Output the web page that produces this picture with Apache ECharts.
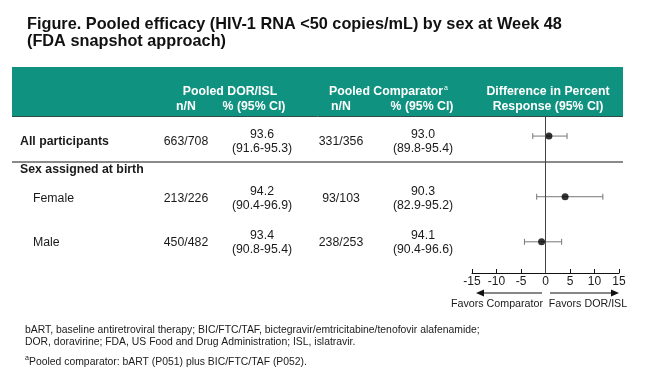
<!DOCTYPE html>
<html>
<head>
<meta charset="utf-8">
<script src="https://cdn.jsdelivr.net/npm/echarts/dist/echarts.min.js"></script>
<style>
  html, body { margin: 0; padding: 0; background: #fff; }
  #forest { width: 647px; height: 389px; }
</style>
</head>
<body>
<div id="forest"></div>
<script>
// table rows
const rowLabels = ['All participants', 'Female', 'Male'];
const dorN = ['663/708', '213/226', '450/482'];
const dorPct = ['93.6', '94.2', '93.4'];
const dorCI = ['(91.6-95.3)', '(90.4-96.9)', '(90.8-95.4)'];
const cmpN = ['331/356', '93/103', '238/253'];
const cmpPct = ['93.0', '90.3', '94.1'];
const cmpCI = ['(89.8-95.4)', '(82.9-95.2)', '(90.4-96.6)'];

// difference in percent response (95% CI)
const diffEst = [0.7, 4.0, -0.8];
const diffLo = [-2.6, -1.8, -4.3];
const diffHi = [4.4, 11.7, 3.3];
const rowSlot = [1.1, 4.6, 7.2];

const xMin = -15, xMax = 15, xStep = 5;

const FONT = '"Liberation Sans", Arial, sans-serif';
const rowTextY = [142, 199, 243];
const rowLabelX = [20, 33, 33];

let chart = echarts.init(document.getElementById('forest'), null, {renderer: 'canvas'});

const txt = (text, x, y, opt) => ({
	type: 'text',
	x: x, y: y,
	style: Object.assign({
		text: text,
		fontFamily: FONT,
		fontSize: 12.3,
		fill: '#1a1a1a',
		align: 'center',
		verticalAlign: 'middle'
	}, opt || {})
});

let graphics = [
	txt('Figure. Pooled efficacy (HIV-1 RNA <50 copies/mL) by sex at Week 48', 27, 25, {fontSize: 16.3, fontWeight: 'bold', align: 'left', fill: '#111'}),
	txt('(FDA snapshot approach)', 27, 42, {fontSize: 16.3, fontWeight: 'bold', align: 'left', fill: '#111'}),
	{type: 'rect', shape: {x: 12, y: 67, width: 611, height: 49}, style: {fill: '#0f927f'}},
	{type: 'line', shape: {x1: 12, y1: 116.5, x2: 623, y2: 116.5}, style: {stroke: '#2d4d48', lineWidth: 1}},
	txt('Pooled DOR/ISL', 230, 92, {fontWeight: 'bold', fill: '#fff'}),
	txt('n/N', 186, 107, {fontWeight: 'bold', fill: '#fff'}),
	txt('% (95% CI)', 254, 107, {fontWeight: 'bold', fill: '#fff'}),
	txt('Pooled Comparator', 386, 92, {fontWeight: 'bold', fill: '#fff'}),
	txt('a', 444, 88, {fontSize: 7, fill: '#fff', align: 'left'}),
	txt('n/N', 341, 107, {fontWeight: 'bold', fill: '#fff'}),
	txt('% (95% CI)', 422, 107, {fontWeight: 'bold', fill: '#fff'}),
	txt('Difference in Percent', 548, 92, {fontWeight: 'bold', fill: '#fff'}),
	txt('Response (95% CI)', 548, 107, {fontWeight: 'bold', fill: '#fff'}),
	{type: 'line', shape: {x1: 12, y1: 162, x2: 623, y2: 162}, style: {stroke: '#8a8a8a', lineWidth: 2}},
	txt('Sex assigned at birth', 20, 170, {fontWeight: 'bold', align: 'left'}),
	// favours arrows
	{type: 'line', shape: {x1: 542, y1: 293, x2: 482, y2: 293}, style: {stroke: '#111', lineWidth: 1.2}},
	{type: 'polygon', shape: {points: [[476, 293], [484, 289.5], [484, 296.5]]}, style: {fill: '#111'}},
	{type: 'line', shape: {x1: 550, y1: 293, x2: 612, y2: 293}, style: {stroke: '#111', lineWidth: 1.2}},
	{type: 'polygon', shape: {points: [[619, 293], [611, 289.5], [611, 296.5]]}, style: {fill: '#111'}},
	txt('Favors Comparator', 497, 304, {fontSize: 10.7}),
	txt('Favors DOR/ISL', 588, 304, {fontSize: 10.7}),
	// footnotes
	txt('bART, baseline antiretroviral therapy; BIC/FTC/TAF, bictegravir/emtricitabine/tenofovir alafenamide;', 25, 330, {fontSize: 10.4, align: 'left'}),
	txt('DOR, doravirine; FDA, US Food and Drug Administration; ISL, islatravir.', 25, 342, {fontSize: 10.4, align: 'left'}),
	txt('a', 25, 358, {fontSize: 7, align: 'left'}),
	txt('Pooled comparator: bART (P051) plus BIC/FTC/TAF (P052).', 29, 362, {fontSize: 10.4, align: 'left'})
];

rowLabels.forEach((label, i) => {
	let y = rowTextY[i];
	graphics.push(txt(label, rowLabelX[i], y, {align: 'left', fontWeight: i === 0 ? 'bold' : 'normal'}));
	graphics.push(txt(dorN[i], 186, y));
	graphics.push(txt(dorPct[i], 262, y - 7));
	graphics.push(txt(dorCI[i], 262, y + 7));
	graphics.push(txt(cmpN[i], 341, y));
	graphics.push(txt(cmpPct[i], 423, y - 7));
	graphics.push(txt(cmpCI[i], 423, y + 7));
});

let option = {
	animation: false,
	backgroundColor: '#fff',
	grid: {left: 472, width: 147, top: 117, height: 156},
	xAxis: {
		type: 'value',
		position: 'bottom',
		min: xMin, max: xMax, interval: xStep,
		axisLine: {show: true, onZero: false, lineStyle: {color: '#111', width: 1}},
		axisTick: {show: true, inside: true, length: 4, lineStyle: {color: '#111'}},
		axisLabel: {fontFamily: FONT, fontSize: 12, color: '#1a1a1a', margin: 3},
		splitLine: {show: false}
	},
	yAxis: {
		type: 'value', inverse: true, min: 0, max: 9,
		show: false
	},
	graphic: graphics,
	series: [
		{
			type: 'custom',
			silent: true,
			data: diffEst.map((d, i) => [diffLo[i], diffHi[i], rowSlot[i]]),
			renderItem: (params, api) => {
				let a = api.coord([api.value(0), api.value(2)]);
				let b = api.coord([api.value(1), api.value(2)]);
				let s = {stroke: '#777', lineWidth: 1};
				return {
					type: 'group',
					children: [
						{type: 'line', shape: {x1: a[0], y1: a[1], x2: b[0], y2: b[1]}, style: s},
						{type: 'line', shape: {x1: a[0], y1: a[1] - 3, x2: a[0], y2: a[1] + 3}, style: s},
						{type: 'line', shape: {x1: b[0], y1: b[1] - 3, x2: b[0], y2: b[1] + 3}, style: s}
					]
				};
			},
			z: 2
		},
		{
			type: 'scatter',
			silent: true,
			symbolSize: 7,
			itemStyle: {color: '#000'},
			data: diffEst.map((d, i) => [d, rowSlot[i]]),
			markLine: {
				silent: true,
				symbol: 'none',
				label: {show: false},
				lineStyle: {color: '#444', width: 1, type: 'solid'},
				data: [{xAxis: 0}]
			},
			z: 3
		}
	]
};

chart.setOption(option);
</script>
</body>
</html>
